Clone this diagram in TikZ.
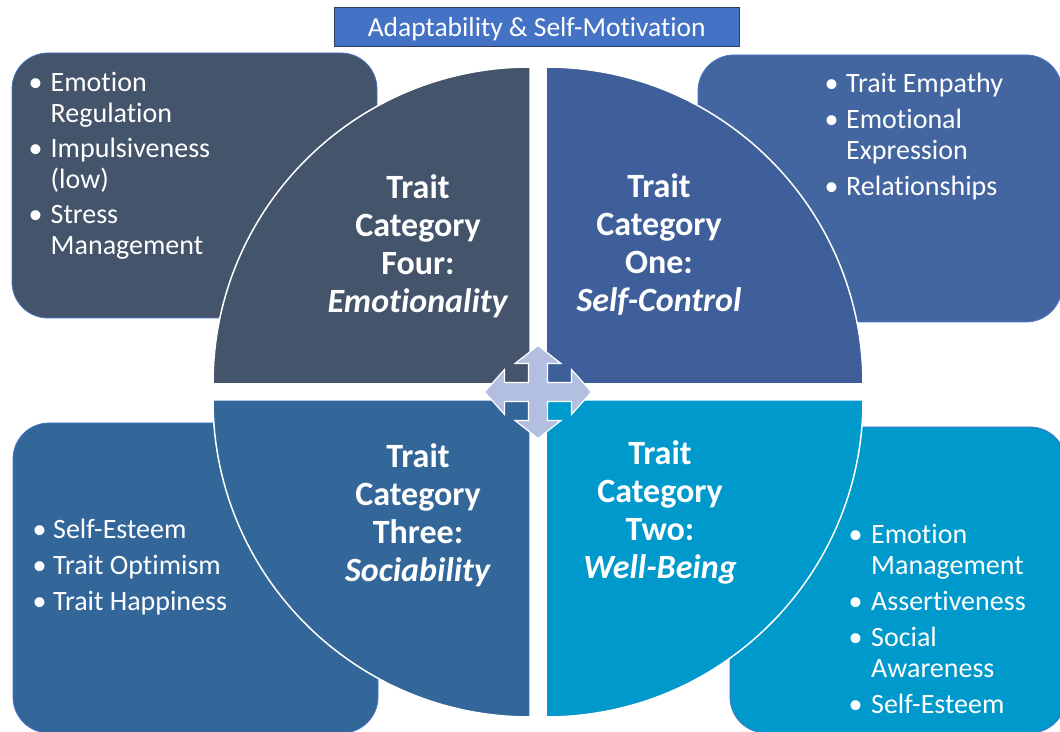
\documentclass[tikz,border=0pt]{standalone}
\usepackage{fontspec}
\setmainfont{Carlito}[RawFeature={-liga;-clig;-calt;-dlig}]

\definecolor{slate}{HTML}{44546A}
\definecolor{royal}{HTML}{3F5F9B}
\definecolor{royallight}{HTML}{4365A0}
\definecolor{steel}{HTML}{33679A}
\definecolor{cyanblue}{HTML}{0099CC}
\definecolor{titleblue}{HTML}{4472C4}
\definecolor{titleframe}{HTML}{2F3E5C}
\definecolor{rectline}{HTML}{4A74C6}
\definecolor{lavender}{HTML}{B3BFE1}

% list bullet, nudged right inside its column
\newcommand{\itemdot}{\hspace*{1.5pt}\textbullet}

\tikzset{
  panel/.style={rounded corners=36pt, draw=rectline, line width=0.8pt},
  quarter/.style={draw=white, line width=1.5pt},
  cat/.style={text=white, inner sep=0pt, anchor=base,
    font=\fontsize{34}{38}\selectfont\bfseries},
  items/.style={text=white, inner sep=0pt, anchor=base west,
    font=\fontsize{28}{31}\selectfont},
}

\begin{document}
\begin{tikzpicture}[x=1pt,y=1pt]
\useasboundingbox (0,0) rectangle (1060,731);
\clip (0,0) rectangle (1060,731);

% side panels
\path[panel, fill=slate]      (12,413)  rectangle (377,678);
\path[panel, fill=royallight] (698,409) rectangle (1062,676);
\path[panel, fill=steel]      (13,-2)   rectangle (378,308);
\path[panel, fill=cyanblue]   (730,-2)  rectangle (1066,304);

% four quarter discs
\path[quarter, fill=slate]    (530,347) -- ++(-317,0) arc[start angle=180, end angle=90,  radius=317] -- cycle;
\path[quarter, fill=royal]    (546,347) -- ++(0,317)  arc[start angle=90,  end angle=0,   radius=317] -- cycle;
\path[quarter, fill=steel]    (530,331) -- ++(-317,0) arc[start angle=180, end angle=270, radius=317] -- cycle;
\path[quarter, fill=cyanblue] (546,331) -- ++(317,0)  arc[start angle=0,   end angle=-90, radius=317] -- cycle;

% title bar
\node[draw=titleframe, fill=titleblue, line width=1pt, inner sep=0pt,
      minimum width=405pt, minimum height=39pt] (title) at (536.5,703.5) {};
\node[text=white, inner sep=0pt, anchor=base, font=\fontsize{27.5}{30}\selectfont]
      (titletext) at (536.7,694.3) {Adaptability \& Self-Motivation};

% category labels
\node[cat] (catfour) at (418,532) {\begin{tabular}[t]{@{}c@{}}Trait\\Category\\Four:\\\textit{Emotionality}\end{tabular}};
\node[cat] (catone) at (659,533) {\begin{tabular}[t]{@{}c@{}}Trait\\Category\\One:\\\textit{Self-Control}\end{tabular}};
\node[cat] (catthree) at (418,263) {\begin{tabular}[t]{@{}c@{}}Trait\\Category\\Three:\\\textit{Sociability}\end{tabular}};
\node[cat] (cattwo) at (660,266) {\begin{tabular}[t]{@{}c@{}}Trait\\Category\\Two:\\\textit{Well-Being}\end{tabular}};

% bullet lists
\node[items] (listfour) at (27,639) {\begin{tabular}[t]{@{}p{23.5pt}@{}l@{}}
\itemdot & Emotion\\ & Regulation\\[4pt]
\itemdot & Impulsiveness\\ & (low)\\[4pt]
\itemdot & Stress\\ & Management
\end{tabular}};

\node[items] (listone) at (823,638) {\begin{tabular}[t]{@{}p{23pt}@{}l@{}}
\itemdot & Trait Empathy\\[5pt]
\itemdot & Emotional\\ & Expression\\[5pt]
\itemdot & Relationships
\end{tabular}};

\node[items] (listthree) at (31,192) {\begin{tabular}[t]{@{}p{22pt}@{}l@{}}
\itemdot & Self-Esteem\\[5pt]
\itemdot & Trait Optimism\\[5pt]
\itemdot & Trait Happiness
\end{tabular}};

\node[items] (listtwo) at (847,187) {\begin{tabular}[t]{@{}p{24pt}@{}l@{}}
\itemdot & Emotion\\ & Management\\[5pt]
\itemdot & Assertiveness\\[5pt]
\itemdot & Social\\ & Awareness\\[5pt]
\itemdot & Self-Esteem
\end{tabular}};

% four-way arrow in the centre
\draw[fill=lavender, draw=white, line width=1.2pt, shift={(538,339)}]
  (53.5,0) -- (33.5,22.5) -- (33.5,9.5) -- (9.5,9.5) -- (9.5,28.5) -- (23,28.5)
  -- (0,46.5) -- (-23,28.5) -- (-9.5,28.5) -- (-9.5,9.5) -- (-33.5,9.5) -- (-33.5,22.5)
  -- (-53.5,0) -- (-33.5,-22.5) -- (-33.5,-9.5) -- (-9.5,-9.5) -- (-9.5,-28.5) -- (-23,-28.5)
  -- (0,-46.5) -- (23,-28.5) -- (9.5,-28.5) -- (9.5,-9.5) -- (33.5,-9.5) -- (33.5,-22.5) -- cycle;
\end{tikzpicture}
\end{document}
